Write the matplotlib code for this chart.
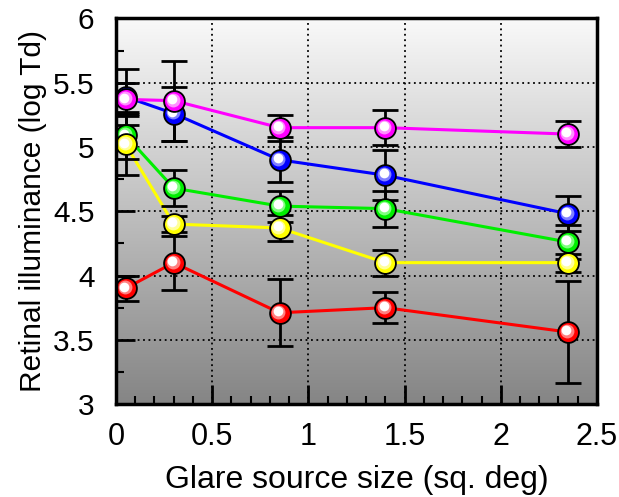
import numpy as np
import matplotlib
matplotlib.use("Agg")
import matplotlib.pyplot as plt
import matplotlib.transforms as mtransforms
from matplotlib.ticker import MultipleLocator

plt.rcParams['font.family'] = ['Liberation Sans', 'DejaVu Sans']

# 数据
size = [0.05, 0.3, 0.85, 1.4, 2.35]

red = [3.90, 4.10, 3.71, 3.75, 3.56]
red_err = [0.10, 0.21, 0.26, 0.12, 0.40]
green = [5.09, 4.68, 4.54, 4.52, 4.26]
green_err = [0.18, 0.14, 0.12, 0.14, 0.13]
yellow = [5.02, 4.40, 4.37, 4.10, 4.10]
yellow_err = [0.24, 0.06, 0.10, 0.10, 0.07]
blue = [5.39, 5.26, 4.90, 4.78, 4.48]
blue_err = [0.22, 0.21, 0.175, 0.195, 0.135]
magenta = [5.37, 5.36, 5.15, 5.15, 5.10]
magenta_err = [0.13, 0.31, 0.10, 0.135, 0.10]

series = [
    (red, red_err, '#ff0000', '#ff8080'),
    (green, green_err, '#00ee00', '#80ff80'),
    (yellow, yellow_err, '#ffff00', '#ffff99'),
    (blue, blue_err, '#0000ff', '#8080ff'),
    (magenta, magenta_err, '#ff00ff', '#ff90ff'),
]

fig = plt.figure(figsize=(6.19, 4.97), dpi=100)
ax = fig.add_axes([0.1874, 0.187, 0.777, 0.776])

# 渐变背景（上浅下深）
grad = np.linspace(0, 1, 256).reshape(-1, 1)
ax.imshow(grad, cmap=matplotlib.colors.LinearSegmentedColormap.from_list(
    'bg', ['#f9f9f9', '#858585']), aspect='auto', extent=[0, 1, 0, 1],
    origin='upper', transform=ax.transAxes, zorder=0)

for ys, err, c, light in series:
    ax.plot(size, ys, '-', color=c, lw=2.2, zorder=2)
    ax.errorbar(size, ys, yerr=err, fmt='none', ecolor='k', elinewidth=2,
                capsize=9.5, capthick=2, zorder=3)

# 球形标记
for i, (ys, err, c, light) in enumerate(series):
    z = 4 + i * 0.1
    ax.plot(size, ys, 'o', ms=15, mfc=c, mec='k', mew=1.3, zorder=z)
    off1 = mtransforms.offset_copy(ax.transData, fig=fig, x=-0.8, y=0.8, units='points')
    ax.plot(size, ys, 'o', ms=10, mfc=light, mec='none', transform=off1, zorder=z + 0.01)
    off2 = mtransforms.offset_copy(ax.transData, fig=fig, x=-1.3, y=1.3, units='points')
    ax.plot(size, ys, 'o', ms=7, mfc='white', mec='none', transform=off2, zorder=z + 0.02)

ax.set_xlim(0, 2.5)
ax.set_ylim(3, 6)
ax.xaxis.set_major_locator(MultipleLocator(0.5))
ax.xaxis.set_minor_locator(MultipleLocator(0.1))
ax.yaxis.set_major_locator(MultipleLocator(0.5))
ax.yaxis.set_minor_locator(MultipleLocator(0.25))
ax.xaxis.set_major_formatter(matplotlib.ticker.FuncFormatter(lambda v, p: f"{v:g}"))
ax.yaxis.set_major_formatter(matplotlib.ticker.FuncFormatter(lambda v, p: f"{v:g}"))

ax.tick_params(which='major', direction='in', length=14, width=2)
ax.tick_params(axis='x', which='major', labelsize=22, pad=13)
ax.tick_params(axis='y', which='major', labelsize=21.5, pad=15.5)
ax.tick_params(which='minor', direction='in', length=6, width=1.5)
ax.tick_params(top=False, right=False, which='both')

ax.grid(True, which='major', color='k', linestyle=(0, (1, 2)), lw=1.3, zorder=1)
for s in ax.spines.values():
    s.set_linewidth(2.5)
    s.set_zorder(6)

ax.set_xlabel("Glare source size (sq. deg)", fontsize=23, labelpad=9)
ax.set_ylabel("Retinal illuminance (log Td)", fontsize=21.5, labelpad=4)

plt.savefig("out.png", dpi=100)
